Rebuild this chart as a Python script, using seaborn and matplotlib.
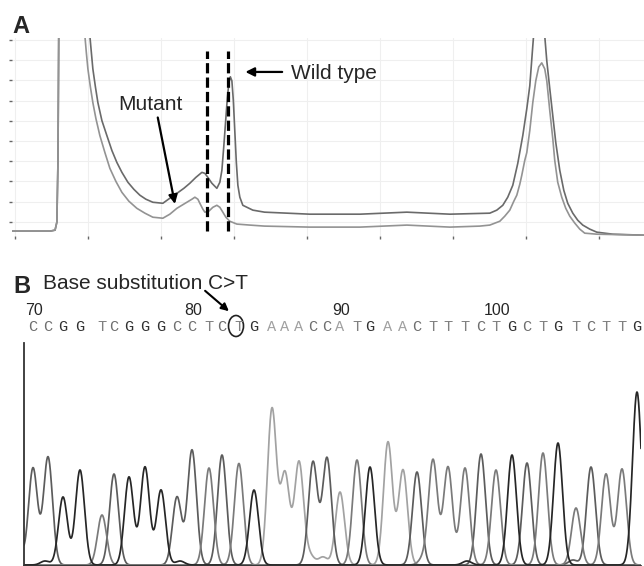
"""Two-panel mutation figure: DHPLC elution profiles (A) and the
sequencing trace around the C>T substitution (B).

Run: python plot.py  -> out.png
"""

import matplotlib
matplotlib.use("Agg")
import matplotlib.pyplot as plt
from matplotlib.patches import Ellipse
import numpy as np
import pandas as pd
import seaborn as sns

# ---- panel A: elution profiles (time in min, signal in mV) ----
upper_time = [-0.04, 0.48, 0.55, 0.575, 0.59, 0.60, 0.62, 0.78, 0.97, 1.00,
              1.027, 1.048, 1.068, 1.103, 1.137, 1.192, 1.260, 1.329, 1.397, 1.466,
              1.548, 1.630, 1.712, 1.795, 1.890, 2.027, 2.123, 2.219, 2.315, 2.397,
              2.479, 2.562, 2.603, 2.644, 2.699, 2.767, 2.808, 2.836, 2.863, 2.890,
              2.911, 2.932, 2.952, 2.973, 2.993, 3.014, 3.034, 3.055, 3.082, 3.123,
              3.26, 3.42, 4.04, 4.73, 5.37, 5.96, 6.507, 6.603, 6.685, 6.753,
              6.822, 6.890, 6.959, 7.014, 7.055, 7.096, 7.123, 7.178, 7.233, 7.260,
              7.288, 7.329, 7.370, 7.411, 7.466, 7.521, 7.575, 7.644, 7.712, 7.781,
              7.877, 7.973, 8.192, 8.616]
upper_signal = [0.54, 0.54, 0.59, 0.99, 4.04, 10.05, 21.9, 41.6, 21.9, 14.9,
                10.20, 9.36, 8.57, 7.68, 6.90, 6.01, 5.27, 4.53, 3.94, 3.45,
                2.96, 2.61, 2.32, 2.12, 1.97, 1.92, 2.17, 2.41, 2.66, 2.91,
                3.20, 3.45, 3.40, 3.20, 2.91, 2.66, 2.96, 3.55, 4.78, 6.11,
                7.14, 7.88, 8.18, 7.98, 7.00, 5.42, 3.94, 2.81, 2.22, 1.82,
                1.58, 1.48, 1.38, 1.38, 1.48, 1.38, 1.43, 1.58, 1.82, 2.22,
                2.81, 3.89, 5.27, 6.60, 7.73, 9.70, 10.94, 12.9, 10.94, 10.20,
                8.97, 7.59, 6.26, 4.93, 3.55, 2.56, 1.92, 1.43, 1.08, 0.84,
                0.64, 0.49, 0.39, 0.34]
lower_time = [-0.04, 0.48, 0.55, 0.575, 0.59, 0.60, 0.62, 0.78, 0.93, 0.959,
              0.979, 1.000, 1.034, 1.068, 1.110, 1.164, 1.233, 1.301, 1.384, 1.466,
              1.562, 1.671, 1.781, 1.890, 2.027, 2.123, 2.219, 2.356, 2.425, 2.466,
              2.507, 2.534, 2.575, 2.603, 2.658, 2.712, 2.767, 2.808, 2.849, 2.890,
              2.945, 3.041, 3.22, 3.42, 4.04, 4.73, 5.37, 5.96, 6.370, 6.507,
              6.644, 6.712, 6.781, 6.836, 6.877, 6.918, 6.945, 6.986, 7.014, 7.055,
              7.096, 7.137, 7.178, 7.219, 7.260, 7.288, 7.329, 7.370, 7.397, 7.438,
              7.493, 7.548, 7.603, 7.671, 7.740, 7.808, 7.973, 8.616]
lower_signal = [0.54, 0.54, 0.59, 0.99, 4.04, 10.05, 21.9, 41.6, 14.9, 10.20,
                9.36, 8.57, 7.68, 6.90, 6.11, 5.27, 4.43, 3.65, 3.00, 2.46,
                2.02, 1.67, 1.43, 1.23, 1.18, 1.38, 1.67, 1.97, 2.12, 2.22,
                2.12, 1.92, 1.63, 1.48, 1.53, 1.72, 1.82, 1.72, 1.48, 1.23,
                1.03, 0.89, 0.84, 0.79, 0.74, 0.74, 0.84, 0.74, 0.79, 0.84,
                1.03, 1.28, 1.58, 2.02, 2.32, 2.86, 3.30, 4.04, 4.43, 5.52,
                6.90, 7.98, 8.67, 8.87, 8.57, 7.98, 6.50, 5.12, 4.04, 2.96,
                2.22, 1.67, 1.28, 0.94, 0.64, 0.44, 0.39, 0.34]
marker_times = [2.63, 2.92]  # dashed lines bracketing mutant / wild-type peaks

# ---- panel B: sequencing trace, one peak per called base ----
first_base_number = 70
bases = list("CCGGTCGGGCCTCTGAAACCATGAACTTTCTGCTGTCTTG")
peak_pos = [33, 48, 63, 80, 102, 114, 129, 145, 161, 177,
            192, 209, 222, 239, 254, 272, 285, 299, 313, 327,
            340, 357, 370, 388, 403, 417, 433, 448, 465, 481,
            496, 512, 527, 543, 558, 576, 591, 606, 622, 637]
peak_height = [97, 108, 68, 95, 50, 91, 88, 98, 75, 68,
               115, 97, 110, 97, 75, 156, 91, 103, 103, 107,
               73, 105, 98, 123, 95, 93, 105, 98, 97, 111,
               95, 110, 102, 112, 122, 57, 98, 91, 96, 173]
# background signal from the other channels (plus the base before 70)
minor_pos = [14, 45, 180, 237, 310, 323, 423, 467, 573]
minor_height = [80, 4, 4, 5, 9, 8, 6, 4, 5]
minor_base = ["C", "G", "G", "T", "A", "A", "T", "G", "C"]
mutated_index = 13  # position 83, the circled T

trace_colors = {"A": "#a2a2a2", "C": "#5c5c5c", "T": "#7a7a7a", "G": "#262626"}
letter_colors = {"A": "#a0a0a0", "C": "#6e6e6e", "T": "#808080", "G": "#303030"}

sns.set_theme(style="white")
plt.rcParams["font.family"] = ["Liberation Sans", "DejaVu Sans"]


def build_trace(sigma=4.5):
    scan = np.linspace(24, 641, 1800)
    pos = peak_pos + minor_pos
    hgt = peak_height + minor_height
    chan = bases + minor_base
    frames = []
    for b in "ACTG":
        y = np.zeros_like(scan)
        for p, h, c in zip(pos, hgt, chan):
            if c == b:
                y += h * np.exp(-((scan - p) ** 2) / (2 * sigma ** 2))
        frames.append(pd.DataFrame({"scan": scan, "signal": y, "base": b}))
    return pd.concat(frames, ignore_index=True)


def plot_panel_a(fig):
    ax = fig.add_axes([12 / 644, 1 - 236 / 566, 632 / 644, 198 / 566])
    df = pd.concat([
        pd.DataFrame({"time": upper_time, "signal": upper_signal, "run": "upper"}),
        pd.DataFrame({"time": lower_time, "signal": lower_signal, "run": "lower"}),
    ], ignore_index=True)
    sns.lineplot(data=df, x="time", y="signal", hue="run",
                 palette={"upper": "#6a6a6a", "lower": "#939393"},
                 estimator=None, sort=False, lw=1.2, legend=False, ax=ax)
    ax.vlines(marker_times, 0.54, 9.46, colors="black", lw=2.3,
              linestyles=(0, (3.2, 1.3)))

    ax.set_xlim(-0.04, 8.62)
    ax.set_ylim(0.3, 10.1)
    ax.set_xticks(range(0, 9))
    ax.set_yticks(range(1, 11))
    ax.grid(True, color="#efefef", lw=0.8)
    for s in ax.spines.values():
        s.set_visible(False)
    ax.tick_params(axis="both", length=2, width=1, color="#666666",
                   labelleft=False, labelbottom=False, left=True, bottom=True)
    ax.set_xlabel("")
    ax.set_ylabel("")

    ax.annotate("", xy=(2.20, 1.75), xytext=(1.95, 6.3),
                arrowprops=dict(arrowstyle="-|>", color="black", lw=1.6,
                                mutation_scale=13))
    ax.text(1.41, 6.55, "Mutant", fontsize=15, ha="left", va="baseline")
    ax.annotate("", xy=(3.12, 8.42), xytext=(3.70, 8.42),
                arrowprops=dict(arrowstyle="-|>", color="black", lw=1.6,
                                mutation_scale=13))
    ax.text(3.78, 8.08, "Wild type", fontsize=15, ha="left", va="baseline")


def plot_panel_b(fig):
    ax = fig.add_axes([24 / 644, 0, 617 / 644, 276 / 566])
    df = build_trace()
    sns.lineplot(data=df, x="scan", y="signal", hue="base",
                 palette=trace_colors, hue_order=list("ACTG"),
                 estimator=None, sort=False, lw=1.25, legend=False, ax=ax)
    ax.set_xlim(24, 641)
    ax.set_ylim(-1, 275)
    ax.set_xticks([])
    ax.set_yticks([])
    ax.set_xlabel("")
    ax.set_ylabel("")
    ax.spines["top"].set_visible(False)
    ax.spines["right"].set_visible(False)
    ax.spines["left"].set_bounds(-1, 222)
    for side in ("left", "bottom"):
        ax.spines[side].set_color("#333333")
        ax.spines[side].set_linewidth(1.3)

    for i, (b, p) in enumerate(zip(bases, peak_pos)):
        ax.text(p, 234, b, color=letter_colors[b], fontsize=11,
                family=["Liberation Mono", "DejaVu Sans Mono"],
                ha="center", va="baseline")
        if i % 10 == 0:
            ax.text(p + 1, 250, str(first_base_number + i), fontsize=11.5,
                    ha="center", va="baseline")

    mp = peak_pos[mutated_index] - 3
    ax.add_patch(Ellipse((mp, 239), 15, 21, fill=False, ec="#222222",
                         lw=1.2, clip_on=False))
    ax.annotate("", xy=(mp - 5, 252), xytext=(mp - 33, 276),
                arrowprops=dict(arrowstyle="-|>", color="black", lw=1.5,
                                mutation_scale=11),
                annotation_clip=False)


def main():
    fig = plt.figure(figsize=(6.44, 5.66), dpi=100)
    plot_panel_a(fig)
    plot_panel_b(fig)
    fig.text(12 / 644, 1 - 33 / 566, "A", fontsize=17, fontweight="bold")
    fig.text(13 / 644, 1 - 293 / 566, "B", fontsize=17, fontweight="bold")
    fig.text(43 / 644, 1 - 289 / 566, "Base substitution C>T", fontsize=15)
    fig.savefig("out.png", dpi=100)
    plt.close(fig)


if __name__ == "__main__":
    main()
